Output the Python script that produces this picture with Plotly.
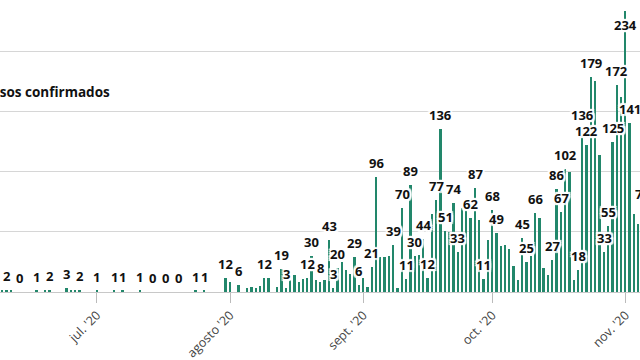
import pandas as pd
import plotly.graph_objects as go

# Daily confirmed cases, 9 Jun 2020 -> 5 Nov 2020
june = [1, 2, 1, 0, 0, 0, 0, 0, 1, 0, 1, 2, 0, 0, 0, 3, 1, 1, 2, 0, 0, 0]  # Jun 9-30
july = [1, 0, 0, 0, 1, 0, 1, 0, 0, 0, 1, 0, 0, 0, 0, 0, 0, 0, 0, 0,
        0, 0, 0, 1, 0, 1, 0, 0, 0, 0, 12]
august = [8, 0, 6, 0, 3, 4, 3, 5, 12, 12, 0, 4, 19, 3, 10, 14, 8, 11, 12, 30,
          10, 8, 10, 43, 3, 20, 25, 18, 15, 29, 6]
september = [12, 4, 21, 96, 29, 29, 30, 39, 3, 70, 11, 89, 30, 31, 44, 12, 65, 77, 136, 51,
             50, 74, 33, 70, 69, 62, 87, 60, 11, 43]
october = [68, 49, 38, 39, 36, 22, 10, 45, 25, 30, 66, 62, 20, 14, 27, 86, 67, 102, 100, 10,
           18, 136, 122, 179, 176, 114, 33, 55, 125, 172, 162]
november = [234, 141, 65, 57, 70]  # Nov 1-5

values = june + july + august + september + october + november
dates = pd.date_range("2020-06-09", periods=len(values), freq="D")

labeled_dates = [
    "2020-06-10", "2020-06-13", "2020-06-17", "2020-06-20", "2020-06-24", "2020-06-27",
    "2020-07-01", "2020-07-05", "2020-07-07", "2020-07-11", "2020-07-14", "2020-07-17",
    "2020-07-20", "2020-07-24", "2020-07-26", "2020-07-31",
    "2020-08-03", "2020-08-09", "2020-08-13", "2020-08-14", "2020-08-19", "2020-08-20",
    "2020-08-22", "2020-08-24", "2020-08-25", "2020-08-26", "2020-08-30", "2020-08-31",
    "2020-09-03", "2020-09-04", "2020-09-08", "2020-09-10", "2020-09-11", "2020-09-12",
    "2020-09-13", "2020-09-15", "2020-09-16", "2020-09-18", "2020-09-19", "2020-09-20",
    "2020-09-22", "2020-09-23", "2020-09-26", "2020-09-27", "2020-09-29",
    "2020-10-01", "2020-10-02", "2020-10-08", "2020-10-09", "2020-10-11", "2020-10-15",
    "2020-10-16", "2020-10-17", "2020-10-18", "2020-10-21", "2020-10-22", "2020-10-23",
    "2020-10-24", "2020-10-27", "2020-10-28", "2020-10-29", "2020-10-30",
    "2020-11-01", "2020-11-02", "2020-11-05",
]

tick_dates = ["2020-07-01", "2020-08-01", "2020-09-01", "2020-10-01", "2020-11-01"]
tick_labels = ["jul. '20", "agosto '20", "sept. '20", "oct. '20", "nov. '20"]
title_text = "Casos confirmados"

BAR_COLOR = "#22876b"
DAY_MS = 86400000

fig = go.Figure()
fig.add_trace(go.Bar(
    x=dates, y=values, marker_color=BAR_COLOR, marker_line_width=0,
    width=0.42 * DAY_MS, hoverinfo="x+y",
))

halo = ("2px 0 1px #fff, -2px 0 1px #fff, 0 2px 1px #fff, 0 -2px 1px #fff, "
        "2px 2px 1px #fff, -2px -2px 1px #fff, 2px -2px 1px #fff, -2px 2px 1px #fff")
value_by_date = dict(zip(dates.strftime("%Y-%m-%d"), values))
annotations = []
for d in labeled_dates:
    v = value_by_date[d]
    annotations.append(dict(
        x=d, y=v, xref="x", yref="y", text=f"<b>{v}</b>", showarrow=False,
        xanchor="center", yanchor="middle", yshift=14 if v < 220 else -14,
        font=dict(family="Open Sans", size=13, color="#111", shadow=halo),
    ))

# The chart continues past the right edge of the 640 px window; the figure is
# a little wider so that the cropped label at the right edge is still drawn.
FIG_W = 664
annotations.append(dict(
    x=-19 / FIG_W, y=1 - 92 / 292, xref="paper", yref="paper", xanchor="left", yanchor="middle",
    text=f"<b>{title_text}</b>", showarrow=False,
    font=dict(family="Open Sans", size=13.5, color="#111"),
))

fig.update_layout(
    width=FIG_W, height=360,
    margin=dict(l=0, r=0, t=0, b=68),
    plot_bgcolor="white", paper_bgcolor="white",
    showlegend=False, bargap=0,
    font=dict(family="Open Sans", color="#333"),
    annotations=annotations,
    xaxis=dict(
        type="date",
        range=["2020-06-08 10:36", "2020-11-09 22:43"],
        tickvals=tick_dates, ticktext=tick_labels, tickangle=-45,
        ticks="outside", ticklen=10, tickcolor="#bbb", tickwidth=1,
        showline=True, linecolor="#c8c8c8", linewidth=1,
        showgrid=False, zeroline=False,
        tickfont=dict(size=12.5, color="#444", family="Open Sans"),
    ),
    yaxis=dict(
        range=[0, 243.1], tickvals=[50, 100, 150, 200],
        showgrid=True, gridcolor="#d6d6d6", gridwidth=1,
        showticklabels=False, zeroline=False, ticks="",
    ),
)

fig.write_html(
    "out.html",
    config={"displayModeBar": False},
    post_script="document.body.style.margin='0';document.body.style.overflow='hidden';",
)
